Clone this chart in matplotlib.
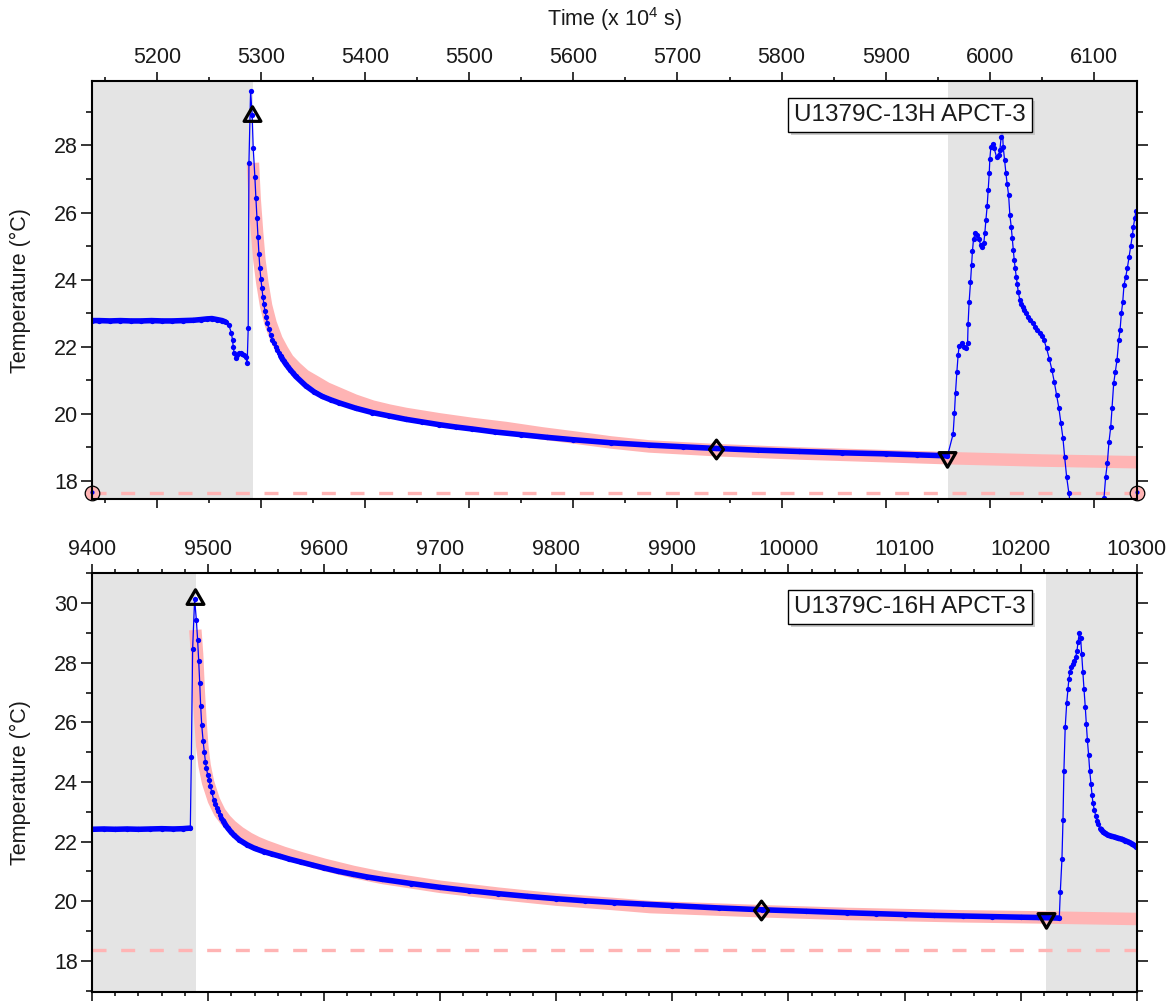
import matplotlib
matplotlib.use('Agg')
import matplotlib.pyplot as plt
from matplotlib.ticker import MultipleLocator
from matplotlib.path import Path
import matplotlib.patheffects as pe
import numpy as np

plt.rcParams['font.family'] = ['Liberation Sans', 'DejaVu Sans']
plt.rcParams['mathtext.default'] = 'regular'

# ---------------- data: top panel (U1379C-13H APCT-3) ----------------
top_time = [5137.8, 5145, 5155, 5165, 5175, 5185, 5195, 5205, 5215, 5225, 5235, 5242, 5248, 5253, 5258,
            5262.8, 5266, 5269.2, 5271.5, 5272.8, 5273.4, 5274.4, 5275.6, 5277, 5278.8, 5280.5, 5282,
            5283.7, 5285.3, 5286.8, 5287.8, 5288.5, 5290.1, 5291.6, 5292.6, 5294.2, 5295.2, 5296.2,
            5297.1, 5298.1, 5299.0, 5300.0, 5301.0, 5301.9, 5302.9, 5303.8, 5305.1, 5306.1, 5307.7,
            5309.3, 5310.9, 5312.5, 5314.1, 5315.7, 5317.3, 5319.0, 5320.6, 5322.1, 5324.0, 5326.0,
            5328.0, 5330.5, 5333.4, 5343, 5351, 5359, 5367, 5375, 5391, 5407, 5423, 5439, 5455, 5471,
            5487, 5503, 5525, 5550, 5575, 5600, 5636, 5673, 5705, 5737, 5777, 5817, 5858, 5900,
            5930, 5959.3,
            5964.7, 5966.0, 5967.0, 5968.3, 5969.5, 5970.5, 5972.8, 5975.3, 5976.9, 5978.6, 5979.1,
            5980.1, 5981.4, 5982.4, 5983.3, 5984.3, 5985.9, 5987.8, 5989.4, 5991.3, 5992.9, 5994.2,
            5995.2, 5996.2, 5997.4, 5998.4, 5999.4, 6000.0, 6001.0, 6002.6, 6004.1, 6006.4, 6008.4,
            6009.6, 6010.9, 6011.7, 6012.8, 6014.1, 6015.4, 6016.6, 6018.0, 6019.2, 6020.5, 6021.5,
            6022.4, 6023.4, 6024.3, 6025.3, 6026.3, 6027.2, 6028.8, 6030.0, 6031.4, 6033.0, 6034.6,
            6036.5, 6038.5, 6041.0, 6043.3, 6045.7, 6048.1, 6050.0, 6051.9, 6054.5, 6057.0, 6059.6,
            6061.8, 6064.1, 6066.3, 6068.3, 6070.2, 6071.8, 6073.7, 6075.9, 6078.0, 6084.0, 6092.0,
            6100.0, 6106.0, 6108.0, 6109.6, 6111.2, 6112.8, 6114.4, 6116.1, 6117.3, 6118.9, 6120.5,
            6122.1, 6123.8, 6125.0, 6126.3, 6127.6, 6128.8, 6130.5, 6132.0, 6133.7, 6135.3, 6136.9,
            6137.8, 6139.2, 6140.4]
top_temp = [22.78, 22.78, 22.77, 22.78, 22.77, 22.77, 22.78, 22.77, 22.77, 22.78, 22.79, 22.81, 22.83, 22.84, 22.81,
            22.78, 22.74, 22.65, 22.42, 22.20, 22.00, 21.80, 21.67, 21.75, 21.80, 21.80, 21.78,
            21.76, 21.70, 21.51, 22.55, 27.48, 29.63, 28.90, 27.93, 27.06, 26.42, 25.85,
            25.28, 24.76, 24.34, 24.01, 23.74, 23.49, 23.27, 23.07, 22.89, 22.72, 22.52,
            22.35, 22.20, 22.10, 22.00, 21.90, 21.81, 21.72, 21.64, 21.57, 21.48, 21.40,
            21.32, 21.23, 21.12, 20.84, 20.66, 20.52, 20.42, 20.33, 20.17, 20.04, 19.94, 19.84, 19.76, 19.68,
            19.61, 19.55, 19.46, 19.38, 19.30, 19.23, 19.14, 19.07, 19.02, 18.97, 18.92, 18.88, 18.84, 18.81,
            18.78, 18.75,
            19.40, 20.03, 20.63, 21.24, 21.75, 22.03, 22.10, 22.00, 21.95, 22.10, 22.68,
            23.34, 23.92, 24.43, 24.86, 25.21, 25.38, 25.33, 25.20, 25.03, 24.98, 25.10,
            25.40, 25.78, 26.19, 26.67, 27.17, 27.61, 27.96, 28.03, 27.91, 27.66, 27.71,
            27.86, 28.26, 28.70, 27.96, 27.56, 27.18, 26.85, 26.52, 25.92, 25.58, 25.23,
            24.88, 24.58, 24.34, 24.09, 23.87, 23.64, 23.39, 23.28, 23.19, 23.09, 23.00,
            22.90, 22.80, 22.70, 22.60, 22.51, 22.42, 22.32, 22.20, 21.95, 21.65, 21.31,
            20.96, 20.56, 20.17, 19.72, 19.27, 18.72, 18.13, 17.63, 17.15, 16.20, 15.40,
            15.50, 16.40, 16.85, 17.48, 18.13, 18.53, 19.17, 19.62, 20.17, 20.91, 21.26,
            21.61, 22.20, 22.50, 23.00, 23.34, 23.84, 24.09, 24.34, 24.68, 25.01, 25.33,
            25.58, 25.83, 26.05]

top_fit_time = [5292.3, 5294.0, 5296.4, 5298.5, 5301.3, 5305.0, 5309.3, 5315.0, 5320.5, 5326.0, 5333.4,
                5342.0, 5352.6, 5363.0, 5375.0, 5390.0, 5407.0, 5423.0, 5439.0, 5455.0, 5471.0, 5487.0,
                5503.0, 5535.0, 5570.0, 5600.0, 5636.0, 5673.0, 5737.0, 5817.0, 5900.0,
                5960.0, 6050.0, 6141.0]
top_fit_temp = [27.48, 26.40, 25.38, 24.60, 23.92, 23.22, 22.70, 22.22, 21.90, 21.62, 21.38,
                21.14, 20.95, 20.76, 20.60, 20.40, 20.22, 20.10, 20.00, 19.92, 19.84, 19.77,
                19.70, 19.58, 19.42, 19.30, 19.15, 19.03, 18.92, 18.82, 18.74,
                18.68, 18.61, 18.56]

top_xlim = [5137.8, 6141.0]
top_ylim = [17.455, 29.92]
top_shade = [[5137.8, 5292.3], [5959.9, 6141.0]]
top_base = 17.65
top_pen_in = [5291.6, 28.87]
top_mid = [5737.2, 18.95]
top_pen_out = [5959.3, 18.73]
top_label = "U1379C-13H APCT-3"

# ---------------- data: bottom panel (U1379C-16H APCT-3) ----------------
bot_time = [9400, 9410, 9420, 9430, 9440, 9450, 9460, 9470, 9478, 9484.7,
            9485.6, 9486.7, 9488.4, 9489.9, 9491.0, 9491.9, 9492.8, 9493.6, 9494.5, 9495.7,
            9496.8, 9497.7, 9498.5, 9499.7, 9500.9, 9502.0, 9503.2, 9504.8, 9506.0, 9507.3,
            9508.5, 9510.0, 9511.5, 9513.0, 9515.0, 9517.0, 9519.5, 9522.1, 9527.0,
            9533.6, 9540.0, 9547.9, 9555.0, 9562.3, 9570, 9580, 9590, 9600, 9612, 9625, 9637, 9650,
            9675, 9700, 9725, 9750, 9775, 9800, 9825, 9850, 9875, 9900, 9940,
            9977, 10015, 10050, 10075, 10100, 10125, 10150, 10175, 10200, 10215, 10233.3,
            10234.2, 10235.6, 10236.5, 10237.3, 10238.4, 10239.7, 10240.8, 10241.6, 10242.5,
            10243.6, 10244.8, 10245.9, 10247.4, 10248.5, 10249.4, 10250.5, 10251.7, 10252.6,
            10253.6, 10254.6, 10255.7, 10256.6, 10257.5, 10258.6, 10259.5, 10260.6, 10261.5,
            10262.3, 10263.5, 10264.7, 10265.8, 10267, 10269, 10271, 10273, 10275, 10278,
            10281, 10284, 10287, 10290, 10293, 10296, 10299.4]
bot_temp = [22.41, 22.42, 22.41, 22.42, 22.41, 22.42, 22.43, 22.42, 22.43, 22.45,
            24.85, 28.47, 30.13, 29.44, 28.75, 28.07, 27.32, 26.56, 25.92, 25.38,
            24.99, 24.68, 24.46, 24.24, 24.05, 23.85, 23.66, 23.40, 23.25, 23.12,
            23.01, 22.90, 22.80, 22.70, 22.56, 22.45, 22.33, 22.22, 22.05,
            21.89, 21.77, 21.66, 21.58, 21.50, 21.41, 21.31, 21.21, 21.11, 21.00, 20.90, 20.81, 20.73,
            20.59, 20.46, 20.35, 20.25, 20.16, 20.08, 20.01, 19.95, 19.90, 19.85, 19.77,
            19.71, 19.66, 19.61, 19.58, 19.55, 19.52, 19.50, 19.48, 19.46, 19.45, 19.43,
            20.32, 21.41, 22.73, 24.38, 25.83, 26.64, 27.12, 27.46, 27.70,
            27.85, 27.95, 28.06, 28.19, 28.38, 28.68, 28.99, 28.83, 28.30,
            27.70, 27.11, 26.51, 25.95, 25.41, 24.89, 24.38, 23.94, 23.57,
            23.29, 23.06, 22.86, 22.70, 22.58, 22.42, 22.33, 22.27, 22.22, 22.18,
            22.15, 22.11, 22.08, 22.03, 21.98, 21.92, 21.83]

bot_fit_time = [9489.0, 9490.5, 9492.0, 9493.5, 9495.0, 9497.0, 9500.0, 9505.0, 9510.0, 9515.0, 9520.0,
                9527.0, 9535.0, 9542.0, 9550.0, 9565.0, 9580.0, 9600.0, 9625.0, 9650.0, 9700.0, 9750.0,
                9800.0, 9850.0, 9881.0, 9977.0, 10050.0, 10150.0, 10222.0, 10300.0]
bot_fit_temp = [29.10, 28.30, 27.00, 26.00, 25.20, 24.55, 23.98, 23.38, 22.98, 22.72, 22.52,
                22.30, 22.10, 21.96, 21.83, 21.62, 21.44, 21.22, 20.98, 20.78, 20.48, 20.25,
                20.05, 19.90, 19.80, 19.66, 19.57, 19.49, 19.45, 19.40]

bot_xlim = [9400, 10300]
bot_ylim = [16.95, 31.0]
bot_shade = [[9400, 9489.7], [10221.8, 10300]]
bot_base = 18.36
bot_pen_in = [9489.0, 30.13]
bot_mid = [9976.7, 19.71]
bot_pen_out = [10221.8, 19.43]
bot_label = "U1379C-16H APCT-3"

# ---------------- styling ----------------
BLUE = '#0000ff'
PINK = '#ffb4b4'
GREY = '#e4e4e4'
TXT = '#1a1a1a'

tri_up = Path([(0, 1.155), (-1, -0.577), (1, -0.577), (0, 1.155)],
              [Path.MOVETO, Path.LINETO, Path.LINETO, Path.CLOSEPOLY])
tri_dn = Path([(0, -1.155), (-1, 0.577), (1, 0.577), (0, -1.155)],
              [Path.MOVETO, Path.LINETO, Path.LINETO, Path.CLOSEPOLY])
diam = Path([(0, 1), (0.75, 0), (0, -1), (-0.75, 0), (0, 1)],
            [Path.MOVETO, Path.LINETO, Path.LINETO, Path.LINETO, Path.CLOSEPOLY])

fig = plt.figure(figsize=(11.73, 10.02), dpi=100)
L = 92 / 1173
W = (1136.7 - 92) / 1173
ax1 = fig.add_axes([L, 1 - 499.3 / 1002, W, (499.3 - 81) / 1002])
ax2 = fig.add_axes([L, 1 - 992 / 1002, W, (992 - 573.3) / 1002])


def draw(ax, t, T, ft, fT, xlim, ylim, shade, base, pin, mid, pout, label,
         xmaj, xmin, dense, circles):
    t = np.asarray(t, float)
    T = np.asarray(T, float)
    ax.set_xlim(xlim)
    ax.set_ylim(ylim)
    for a, b in shade:
        ax.axvspan(a, b, color=GREY, lw=0, zorder=0)
    ax.axhline(base, color=PINK, lw=2.4, linestyle=(0, (4.2, 4.4)), zorder=1)
    ax.plot(ft, fT, color=PINK, lw=9, solid_capstyle='butt', solid_joinstyle='round', zorder=2)
    ax.plot(t, T, color=BLUE, lw=0.9, marker='o', ms=3.8, mew=0, zorder=3)
    for a, b in dense:
        m = (t >= a) & (t <= b)
        ax.plot(t[m], T[m], color=BLUE, lw=4.0, solid_capstyle='round',
                solid_joinstyle='round', zorder=3)
    ax.plot([pin[0]], [pin[1]], marker=tri_up, ms=14, mfc='none', mec='black', mew=2.3, zorder=5)
    ax.plot([mid[0]], [mid[1]], marker=diam, ms=13.5, mfc='none', mec='black', mew=2.3, zorder=5)
    ax.plot([pout[0]], [pout[1]], marker=tri_dn, ms=14, mfc='none', mec='black', mew=2.3, zorder=5)
    if circles:
        ax.plot(xlim, [base, base], ls='none', marker='o', ms=10.5, mfc=PINK, mec='black',
                mew=0.9, clip_on=False, zorder=6)
        ax.plot(xlim, [base + 0.03, base + 0.03], ls='none', marker='o', ms=3, mfc=BLUE,
                mew=0, clip_on=False, zorder=7)
    txt = ax.text(0.783, 0.919, label, transform=ax.transAxes, ha='center', va='center',
                  fontsize=17.5, color=TXT, zorder=8,
                  bbox=dict(boxstyle='square,pad=0.25', fc='white', ec='black', lw=1.0))
    txt.get_bbox_patch().set_path_effects([pe.SimplePatchShadow(offset=(2, -2), shadow_rgbFace='0.75', alpha=0.8),
                                           pe.Normal()])

    ax.xaxis.set_major_locator(MultipleLocator(xmaj))
    ax.xaxis.set_minor_locator(MultipleLocator(xmin))
    ax.yaxis.set_major_locator(MultipleLocator(2))
    ax.yaxis.set_minor_locator(MultipleLocator(1))
    ax.tick_params(axis='x', which='both', direction='out', top=True, bottom=True,
                   labeltop=True, labelbottom=False, width=1.1, colors='black', labelcolor=TXT)
    ax.tick_params(axis='y', which='both', direction='out', left=True, right=True,
                   labelleft=True, labelright=False, width=1.1, colors='black', labelcolor=TXT)
    ax.tick_params(axis='x', which='major', length=6.5, labelsize=15.5, pad=3)
    ax.tick_params(axis='x', which='minor', length=3.2)
    ax.tick_params(axis='y', which='major', length=8.2, labelsize=15.5, pad=2)
    ax.tick_params(axis='y', which='minor', length=4.2)
    for s in ax.spines.values():
        s.set_linewidth(1.5)
        s.set_zorder(9)
    ax.set_ylabel('Temperature (°C)', fontsize=15.5, color=TXT)
    ax.yaxis.set_label_coords(-0.058, 0.5)


draw(ax1, top_time, top_temp, top_fit_time, top_fit_temp, top_xlim, top_ylim, top_shade, top_base,
     top_pen_in, top_mid, top_pen_out, top_label, 100, 50,
     [[5137.8, 5266], [5318, 5959.3]], True)
draw(ax2, bot_time, bot_temp, bot_fit_time, bot_fit_temp, bot_xlim, bot_ylim, bot_shade, bot_base,
     bot_pen_in, bot_mid, bot_pen_out, bot_label, 100, 20,
     [[9400, 9484.7], [9512, 10233.3], [10268, 10300]], False)

fig.text(L + W / 2, 1 - 19 / 1002, 'Time (x 10$^4$ s)', ha='center', va='center',
         fontsize=15.5, color=TXT)

fig.savefig('out.png', dpi=100)
